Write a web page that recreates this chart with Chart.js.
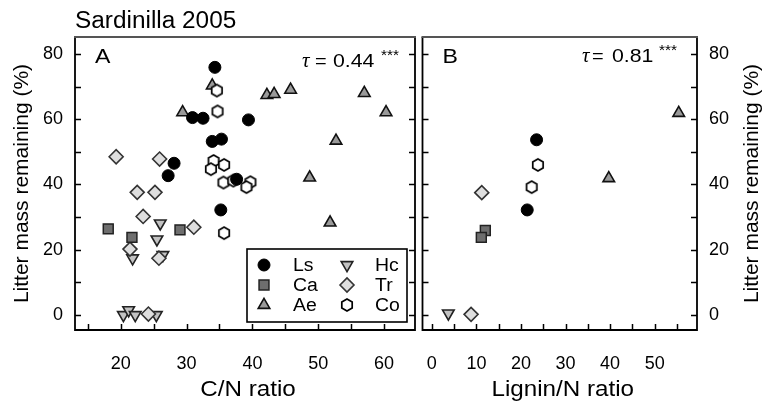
<!DOCTYPE html>
<html>
<head>
<meta charset="utf-8">
<script src="https://cdn.jsdelivr.net/npm/chart.js@4.4.0/dist/chart.umd.min.js"></script>
<style>
  html, body { margin:0; padding:0; background:#fff; }
  #wrap { position:relative; width:765px; height:405px; }
  #wrap canvas { position:absolute; left:0; top:0; }
</style>
</head>
<body>
<div id="wrap">
  <canvas id="chartA" width="765" height="405"></canvas>
  <canvas id="chartB" width="765" height="405"></canvas>
</div>
<script>
// ---------- Data ----------
const speciesNames = ['Ls', 'Ca', 'Ae', 'Hc', 'Tr', 'Co'];

// panel A: [C/N ratio, litter mass remaining %]
const lsCN = [[34.3,75.9],[30.9,60.5],[32.5,60.3],[39.4,59.8],[33.9,53.2],[35.3,53.9],[28.1,46.5],[27.2,42.7],[37.6,41.6],[35.2,32.2]];
const caCN = [[18.1,26.4],[21.7,23.8],[29.0,26.1]];
const aeCN = [[29.4,62.1],[33.9,70.3],[42.2,67.4],[43.3,67.7],[45.8,69.0],[57.0,68.0],[60.3,62.1],[52.7,53.4],[48.7,42.1],[51.8,28.3]];
const hcCN = [[26.0,28.1],[25.5,23.2],[21.8,17.4],[26.4,18.4],[20.4,0],[21.2,1.5],[22.2,0],[25.4,0]];
const trCN = [[19.3,48.5],[25.9,47.8],[22.5,37.6],[25.2,37.6],[23.4,30.2],[31.1,26.9],[21.4,20.2],[25.8,17.4],[24.2,0.3]];
const coCN = [[34.6,68.8],[34.7,62.4],[34.1,47.2],[33.7,44.7],[35.7,46.0],[35.6,40.6],[37.1,41.2],[39.7,40.7],[39.1,39.2],[35.7,25.1]];

// panel B: [Lignin/N ratio, litter mass remaining %]
const lsLN = [[23.5,53.7],[21.4,32.2]];
const caLN = [[12.0,25.9],[11.1,23.8]];
const aeLN = [[55.4,61.9],[39.7,41.9]];
const hcLN = [[3.7,0.5]];
const trLN = [[11.2,37.5],[8.8,0.2]];
const coLN = [[23.8,46.0],[22.4,39.2]];

// ticks
const yTicks = [0, 20, 40, 60, 80];
const yMinor = [10, 30, 50, 70];
const cnTicks = [20, 30, 40, 50, 60];
const cnMinor = [15, 25, 35, 45, 55];
const lnTicks = [0, 10, 20, 30, 40, 50];
const lnMinor = [5, 15, 25, 35, 45, 55];

const tauA = '0.44';
const tauB = '0.81';

// ---------- Styles ----------
const FONT = '"Liberation Sans", Arial, sans-serif';
Chart.defaults.font.family = FONT;
Chart.defaults.font.size = 18;
Chart.defaults.color = '#000';

function makeHexagon(){
  const c = document.createElement('canvas');
  c.width = 16; c.height = 16;
  const g = c.getContext('2d');
  g.beginPath();
  for(let i=0;i<6;i++){
    const a = -Math.PI/2 + i*Math.PI/3;
    const px = 8 + 6*Math.cos(a), py = 8 + 6*Math.sin(a);
    i ? g.lineTo(px,py) : g.moveTo(px,py);
  }
  g.closePath();
  g.fillStyle = '#fff'; g.fill();
  g.lineWidth = 1.7; g.strokeStyle = '#000'; g.stroke();
  return c;
}
const hexImg = makeHexagon();

const markStyle = {
  Ls: { pointStyle:'circle',   radius:6,   rotation:0,   bg:'#000',    border:'#000', bw:1 },
  Ca: { pointStyle:'rect',     radius:7,   rotation:0,   bg:'#6e6e6e', border:'#222', bw:1.5 },
  Ae: { pointStyle:'triangle', radius:6.7, rotation:0,   bg:'#9a9a9a', border:'#111', bw:1.6 },
  Hc: { pointStyle:'triangle', radius:6.7, rotation:180, bg:'#c2c2c2', border:'#222', bw:1.6 },
  Tr: { pointStyle:'rectRot',  radius:7,   rotation:0,   bg:'#dedede', border:'#333', bw:1.6 },
  Co: { pointStyle:hexImg,     radius:6,   rotation:0,   bg:'#fff',    border:'#000', bw:1.6 }
};

// first dataset is drawn on top
function makeSets(series){
  const order = ['Ls','Co','Ca','Tr','Hc','Ae'];
  return order.map(name => {
    const s = markStyle[name];
    return {
      label: name,
      data: series[name].map(p => ({x:p[0], y:p[1]})),
      pointStyle: s.pointStyle,
      pointRadius: s.radius,
      pointRotation: s.rotation,
      backgroundColor: s.bg,
      borderColor: s.border,
      borderWidth: s.bw,
      pointHoverRadius: s.radius
    };
  });
}

function drawMarker(ctx, name, x, y){
  const s = markStyle[name];
  ctx.save();
  ctx.fillStyle = s.bg; ctx.strokeStyle = s.border; ctx.lineWidth = s.bw;
  if(Chart.helpers && Chart.helpers.drawPoint){
    Chart.helpers.drawPoint(ctx, {pointStyle:s.pointStyle, radius:s.radius, rotation:s.rotation, borderWidth:s.bw}, x, y);
  }else{
    ctx.beginPath(); ctx.arc(x,y,s.radius,0,Math.PI*2); ctx.fill(); ctx.stroke();
  }
  ctx.restore();
}

// text drawn a little wider, like the scanned figure
function wideText(ctx, txt, x, y, sx){
  ctx.save();
  ctx.translate(x, y);
  ctx.scale(sx || 1.1, 1);
  ctx.fillText(txt, 0, 0);
  ctx.restore();
}

// ---------- Decoration plugin (frame, inner ticks, labels) ----------
function panelDeco(cfg){
  return {
    id: 'deco' + cfg.letter,
    afterDatasetsDraw(chart){
      const ctx = chart.ctx, a = chart.chartArea;
      const xs = chart.scales.x, ys = chart.scales.y;
      ctx.save();
      // inner ticks
      ctx.strokeStyle = '#000'; ctx.lineWidth = 1.5;
      ctx.beginPath();
      yTicks.concat(yMinor).forEach(v => {
        const py = Math.round(ys.getPixelForValue(v)) + 0.5;
        ctx.moveTo(a.left, py); ctx.lineTo(a.left + 6, py);
        ctx.moveTo(a.right, py); ctx.lineTo(a.right - 6, py);
      });
      cfg.xMarks.forEach(v => {
        const px = Math.round(xs.getPixelForValue(v)) + 0.5;
        ctx.moveTo(px, a.bottom); ctx.lineTo(px, a.bottom - 6);
      });
      ctx.stroke();
      // frame
      ctx.lineWidth = 1.8;
      ctx.beginPath();
      ctx.moveTo(a.left, a.top); ctx.lineTo(a.left, a.bottom);
      ctx.lineTo(a.right, a.bottom); ctx.lineTo(a.right, a.top);
      ctx.stroke();
      ctx.strokeStyle = '#555';
      ctx.beginPath(); ctx.moveTo(a.left - 1, a.top); ctx.lineTo(a.right + 1, a.top); ctx.stroke();

      ctx.fillStyle = '#000';
      ctx.textBaseline = 'alphabetic';
      ctx.textAlign = 'left';
      // panel letter
      ctx.font = '21px ' + FONT;
      wideText(ctx, cfg.letter, a.left + 20, 63, 1.1);
      // tau statistic
      const t = cfg.tau;
      ctx.font = 'italic 21px "Liberation Serif", serif';
      ctx.fillText('τ', t.x, t.y);
      ctx.font = '19px ' + FONT;
      wideText(ctx, '=', t.eq, t.y, 1.05);
      wideText(ctx, t.val, t.num, t.y, 1.12);
      ctx.font = '14px ' + FONT;
      wideText(ctx, '***', t.star, t.y - 7, 1.1);
      // x axis title
      ctx.font = '22px ' + FONT;
      ctx.textAlign = 'center'; ctx.textBaseline = 'middle';
      wideText(ctx, cfg.xTitle, (a.left + a.right) / 2 + 3, 390, 1.1);
      // y title (rotated, reading upward)
      ctx.font = '21px ' + FONT;
      ctx.save();
      ctx.translate(cfg.yTitleX, (a.top + a.bottom) / 2);
      ctx.rotate(-Math.PI / 2);
      ctx.fillText('Litter mass remaining (%)', 0, 0);
      ctx.restore();
      if(cfg.extra) cfg.extra(ctx, a);
      ctx.restore();
    }
  };
}

function drawTitleAndLegend(ctx, a){
  ctx.textAlign = 'left'; ctx.textBaseline = 'alphabetic';
  ctx.font = '23px ' + FONT;
  wideText(ctx, 'Sardinilla 2005', 75, 28, 1.06);
  // legend box
  const bx = 247, by = 249, bw = 160, bh = 73;
  ctx.fillStyle = '#fff'; ctx.fillRect(bx, by, bw, bh);
  ctx.strokeStyle = '#000'; ctx.lineWidth = 1.6;
  ctx.strokeRect(bx, by, bw, bh);
  const cols = [[264, 293], [347, 375]];
  const rows = [265, 285, 305];
  ctx.font = '18px ' + FONT; ctx.textBaseline = 'middle';
  speciesNames.forEach((name, i) => {
    const c = cols[Math.floor(i / 3)], yy = rows[i % 3];
    drawMarker(ctx, name, c[0], yy);
    ctx.fillStyle = '#000';
    wideText(ctx, name, c[1], yy + 1, 1.08);
  });
}

// ---------- Chart builder ----------
function scatterChart(id, series, xr, xTicks, yPos, pad, deco){
  const tickFont = {family: FONT, size: 18};
  return new Chart(document.getElementById(id), {
    type: 'scatter',
    data: { datasets: makeSets(series) },
    options: {
      responsive: false,
      animation: false,
      events: [],
      layout: { padding: pad },
      plugins: { legend: {display:false}, tooltip: {enabled:false} },
      scales: {
        x: {
          type: 'linear', min: xr[0], max: xr[1],
          afterBuildTicks: s => { s.ticks = xTicks.map(v => ({value:v})); },
          afterFit: s => { s.height = 75; },
          grid: { display:false, drawTicks:false },
          border: { display:false },
          ticks: { padding: 23, font: tickFont, color:'#000', maxRotation:0 }
        },
        y: {
          type: 'linear', position: yPos, min: -4.6, max: 85.2,
          afterBuildTicks: s => { s.ticks = yTicks.map(v => ({value:v})); },
          afterFit: s => { s.width = yPos === 'left' ? 75 : 68; },
          grid: { display:false, drawTicks:false },
          border: { display:false },
          ticks: { padding: 12, font: tickFont, color:'#000' }
        }
      }
    },
    plugins: [deco]
  });
}

scatterChart('chartA',
  {Ls:lsCN, Ca:caCN, Ae:aeCN, Hc:hcCN, Tr:trCN, Co:coCN},
  [13.05, 64.7], cnTicks, 'left',
  {left:0, right:765-415, top:37, bottom:0},
  panelDeco({letter:'A', xMarks: cnTicks.concat(cnMinor),
             tau:{x:302, eq:315, num:333, star:381, y:66.5, val:tauA},
             xTitle:'C/N ratio', yTitleX:22, extra: drawTitleAndLegend}));

scatterChart('chartB',
  {Ls:lsLN, Ca:caLN, Ae:aeLN, Hc:hcLN, Tr:trLN, Co:coLN},
  [-2.1, 59.5], lnTicks, 'right',
  {left:422.5, right:0, top:37, bottom:0},
  panelDeco({letter:'B', xMarks: lnTicks.concat(lnMinor),
             tau:{x:582, eq:592, num:612, star:659, y:62, val:tauB},
             xTitle:'Lignin/N ratio', yTitleX:752}));
</script>
</body>
</html>
